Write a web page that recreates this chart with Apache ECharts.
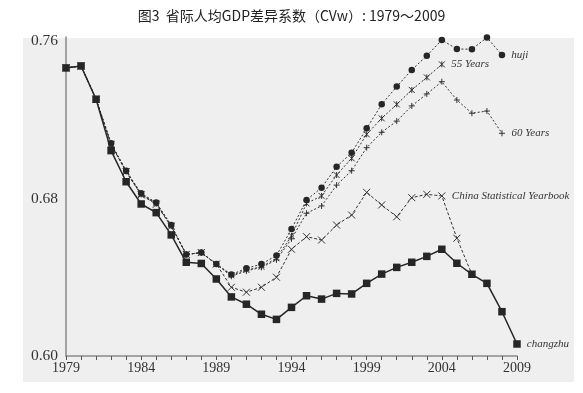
<!DOCTYPE html>
<html><head><meta charset="utf-8">
<script src="https://cdn.jsdelivr.net/npm/echarts@6/dist/echarts.min.js"></script>
<style>html,body{margin:0;padding:0;background:#fff}#c{width:583px;height:393px}</style>
</head><body><div id="c"></div>
<script>
var titleText = '图3  省际人均GDP差异系数（CVw）: 1979～2009';
var years = ['1979','1980','1981','1982','1983','1984','1985','1986','1987','1988','1989','1990','1991','1992','1993','1994','1995','1996','1997','1998','1999','2000','2001','2002','2003','2004','2005','2006','2007','2008','2009'];
var yTicks = [0.60, 0.68, 0.76];
var changzhu = [0.7463,0.7473,0.7304,0.7043,0.6885,0.6772,0.6728,0.6615,0.6476,0.6470,0.6391,0.6300,0.6263,0.6212,0.6186,0.6247,0.6306,0.6289,0.6318,0.6315,0.6369,0.6416,0.6450,0.6476,0.6506,0.6542,0.6471,0.6415,0.6369,0.6225,0.6061];
var huji = [0.7463,0.7473,0.7304,0.7080,0.6941,0.6826,0.6779,0.6665,0.6516,0.6525,0.6467,0.6414,0.6445,0.6467,0.6510,0.6645,0.6792,0.6855,0.6961,0.7032,0.7156,0.7278,0.7368,0.7453,0.7525,0.7605,0.7559,0.7558,0.7617,0.7529];
var years55 = [0.7463,0.7473,0.7304,0.7078,0.6939,0.6823,0.6776,0.6663,0.6516,0.6525,0.6467,0.6410,0.6437,0.6453,0.6496,0.6610,0.6775,0.6813,0.6919,0.7004,0.7126,0.7207,0.7278,0.7351,0.7415,0.7481];
var years60 = [0.7463,0.7473,0.7304,0.7076,0.6937,0.6820,0.6773,0.6660,0.6516,0.6525,0.6467,0.6405,0.6432,0.6450,0.6488,0.6595,0.6725,0.6762,0.6868,0.6941,0.7058,0.7136,0.7193,0.7270,0.7331,0.7393,0.7300,0.7233,0.7244,0.7131];
var csy = [0.7463,0.7473,0.7304,0.7074,0.6935,0.6818,0.6770,0.6658,0.6516,0.6525,0.6467,0.6349,0.6324,0.6349,0.6400,0.6542,0.6606,0.6589,0.6665,0.6716,0.6831,0.6767,0.6707,0.6804,0.6821,0.6813,0.6598,0.6415];

var labelAt = {'changzhu':'2009','China Statistical Yearbook':'2004','60 Years':'2008','55 Years':'2004','huji':'2008'};

var crossPath = 'path://M0,0L10,10M10,0L0,10';
var plusPath = 'path://M5,0L5,10M0,5L10,5';
var starPath = 'path://M0,0L10,10M10,0L0,10M5,0L5,10';

function withLabel(arr, name){
  var idx = years.indexOf(labelAt[name]);
  return arr.map(function(v,i){
    if(i===idx){
      return {value:v, label:{show:true, position:'right', distance:6, formatter:name,
        fontFamily:'Liberation Serif', fontStyle:'italic', fontSize:11, color:'#333'}};
    }
    return v;
  });
}

var lineColor = '#262626';
var chart = echarts.init(document.getElementById('c'));
chart.setOption({
  animation:false,
  backgroundColor:'#ffffff',
  title:{text:titleText, left:'center', top:4,
    textStyle:{fontFamily:'Noto Sans CJK SC', fontWeight:'normal', fontSize:14, color:'#222'}},
  graphic:[{type:'rect', z:-10, shape:{x:23,y:38,width:551,height:344}, style:{fill:'#efefef'}}],
  grid:{left:66, right:66, top:37, bottom:37, containLabel:false},
  xAxis:{type:'category', data:years, boundaryGap:false,
    axisLine:{lineStyle:{color:'#8a8a8a', width:1.5}},
    axisTick:{show:true, interval:0, length:4, lineStyle:{color:'#555'}},
    axisLabel:{interval:4, margin:5, fontFamily:'Liberation Serif', fontSize:14, color:'#333'},
    splitLine:{show:false}},
  yAxis:{type:'value', min:0.60, max:0.762, interval:0.08,
    axisLine:{show:true, lineStyle:{color:'#8a8a8a', width:1.5}},
    axisTick:{show:false},
    axisLabel:{showMaxLabel:false, margin:8, fontFamily:'Liberation Serif', fontSize:15.5, color:'#333',
      formatter:function(v){ for(var i=0;i<yTicks.length;i++){ if(Math.abs(v-yTicks[i])<1e-6) return yTicks[i].toFixed(2);} return ''; }},
    splitLine:{show:false}},
  series:[
    {name:'changzhu', type:'line', data:withLabel(changzhu,'changzhu'), clip:false, z:5,
      symbol:'rect', symbolSize:7.5, showAllSymbol:true,
      lineStyle:{color:lineColor, width:1.5, type:'solid'},
      itemStyle:{color:lineColor}},
    {name:'China Statistical Yearbook', type:'line', data:withLabel(csy,'China Statistical Yearbook'), clip:false, z:4,
      symbol:crossPath, symbolSize:7, showAllSymbol:true,
      lineStyle:{color:'#333', width:1, type:[3,2]},
      itemStyle:{color:'rgba(0,0,0,0)', borderColor:'#333', borderWidth:1}},
    {name:'60 Years', type:'line', data:withLabel(years60,'60 Years'), clip:false, z:4,
      symbol:plusPath, symbolSize:6, showAllSymbol:true,
      lineStyle:{color:'#333', width:1, type:[2,2]},
      itemStyle:{color:'rgba(0,0,0,0)', borderColor:'#333', borderWidth:1}},
    {name:'55 Years', type:'line', data:withLabel(years55,'55 Years'), clip:false, z:4,
      symbol:starPath, symbolSize:6, showAllSymbol:true,
      lineStyle:{color:'#333', width:1, type:[2,2]},
      itemStyle:{color:'rgba(0,0,0,0)', borderColor:'#333', borderWidth:1}},
    {name:'huji', type:'line', data:withLabel(huji,'huji'), clip:false, z:4,
      symbol:'circle', symbolSize:6.5, showAllSymbol:true,
      lineStyle:{color:'#333', width:1, type:[2,2]},
      itemStyle:{color:lineColor}}
  ]
});
</script></body></html>
